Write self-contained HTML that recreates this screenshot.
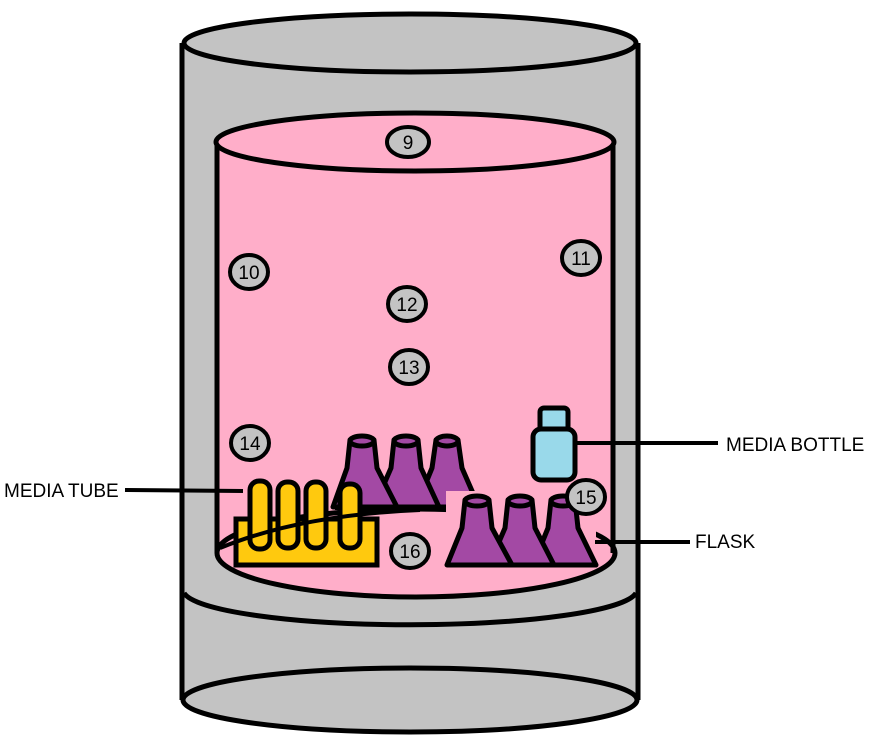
<!DOCTYPE html>
<html><head><style>
html,body{margin:0;padding:0;background:#fff;}
svg{display:block;}
text{font-family:"Liberation Sans",sans-serif;}
</style></head><body>
<svg width="878" height="742" viewBox="0 0 878 742" xmlns="http://www.w3.org/2000/svg">
<rect x="182" y="43" width="456" height="657" fill="#c3c3c3"/>
<line x1="182" y1="43" x2="182" y2="700" stroke="#000" stroke-width="5"/>
<line x1="638" y1="43" x2="638" y2="700" stroke="#000" stroke-width="5"/>
<ellipse cx="410" cy="43" rx="226" ry="29" fill="#c3c3c3" stroke="#000" stroke-width="5"/>
<ellipse cx="410" cy="700" rx="227" ry="32" fill="#c3c3c3" stroke="#000" stroke-width="5"/>
<path d="M184 593 A227 35 0 0 0 636 593" fill="none" stroke="#000" stroke-width="5"/>
<rect x="217" y="142" width="396" height="411" fill="#ffaec9"/>
<ellipse cx="416" cy="553" rx="199" ry="44" fill="#ffaec9" stroke="#000" stroke-width="5"/>
<line x1="217" y1="142" x2="217" y2="553" stroke="#000" stroke-width="5"/>
<line x1="613" y1="142" x2="613" y2="553" stroke="#000" stroke-width="5"/>
<ellipse cx="415" cy="142" rx="199" ry="29" fill="#ffaec9" stroke="#000" stroke-width="5"/>
<g fill="#a349a4" stroke="#000" stroke-width="5" stroke-linejoin="round">
<path d="M436 440 L458 440 L462 468 L479 507 L416 507 L432 468 Z"/>
<ellipse cx="447" cy="441" rx="11" ry="5"/>
<path d="M394 440 L418 440 L421 468 L439 507 L374 507 L391 468 Z"/>
<ellipse cx="406" cy="441" rx="12" ry="5"/>
<path d="M350 440 L374 440 L377 468 L397 507 L333 507 L347 468 Z"/>
<ellipse cx="362" cy="441" rx="12" ry="5"/>
</g>
<line x1="335" y1="508" x2="445" y2="508" stroke="#000" stroke-width="4"/>
<rect x="540" y="408" width="28" height="24" rx="4" fill="#99d9ea" stroke="#000" stroke-width="5"/>
<rect x="533" y="429" width="42" height="51" rx="8" fill="#99d9ea" stroke="#000" stroke-width="5"/>
<line x1="575" y1="443" x2="718" y2="443" stroke="#000" stroke-width="4"/>
<rect x="446" y="491" width="150" height="76" fill="#ffaec9"/>
<g fill="#a349a4" stroke="#000" stroke-width="5" stroke-linejoin="round">
<path d="M551 500 L575 500 L578 528 L596 565 L533 565 L548 528 Z"/>
<ellipse cx="563" cy="501" rx="12" ry="5"/>
<path d="M508 500 L532 500 L535 528 L554 565 L489 565 L505 528 Z"/>
<ellipse cx="520" cy="501" rx="12" ry="5"/>
<path d="M465 500 L489 500 L492 528 L512 565 L447 565 L462 528 Z"/>
<ellipse cx="477" cy="501" rx="12" ry="5"/>
</g>
<line x1="595" y1="542" x2="690" y2="542" stroke="#000" stroke-width="4"/>
<rect x="236" y="519" width="141" height="46" fill="#ffc90e" stroke="#000" stroke-width="5"/>
<g fill="#ffc90e" stroke="#000" stroke-width="5">
<rect x="250" y="481" width="20" height="68" rx="9"/>
<rect x="278" y="482" width="20" height="66" rx="9"/>
<rect x="306" y="482" width="20" height="66" rx="9"/>
<rect x="340" y="484" width="20" height="64" rx="9"/>
</g>
<path d="M220 548 Q300 515 420 510" fill="none" stroke="#000" stroke-width="4"/>
<line x1="125" y1="490" x2="243" y2="491" stroke="#000" stroke-width="4"/>
<g fill="#c3c3c3" stroke="#000" stroke-width="4">
<ellipse cx="408" cy="142" rx="21" ry="15"/>
<ellipse cx="249" cy="272" rx="19" ry="17"/>
<ellipse cx="581" cy="258" rx="19" ry="17"/>
<ellipse cx="407" cy="304" rx="19" ry="17"/>
<ellipse cx="409" cy="367" rx="19" ry="17"/>
<ellipse cx="250" cy="443" rx="19" ry="17"/>
<ellipse cx="586" cy="497" rx="19" ry="17"/>
<ellipse cx="410" cy="551" rx="19" ry="17"/>
</g>
<g font-size="19" text-anchor="middle" fill="#000">
<text x="408" y="149">9</text>
<text x="249" y="279">10</text>
<text x="581" y="265">11</text>
<text x="407" y="311">12</text>
<text x="409" y="374">13</text>
<text x="250" y="450">14</text>
<text x="586" y="504">15</text>
<text x="410" y="558">16</text>
</g>
<g font-size="19" fill="#000">
<text x="726" y="451">MEDIA BOTTLE</text>
<text x="695" y="548">FLASK</text>
<text x="4" y="497">MEDIA TUBE</text>
</g>
</svg>
</body></html>
